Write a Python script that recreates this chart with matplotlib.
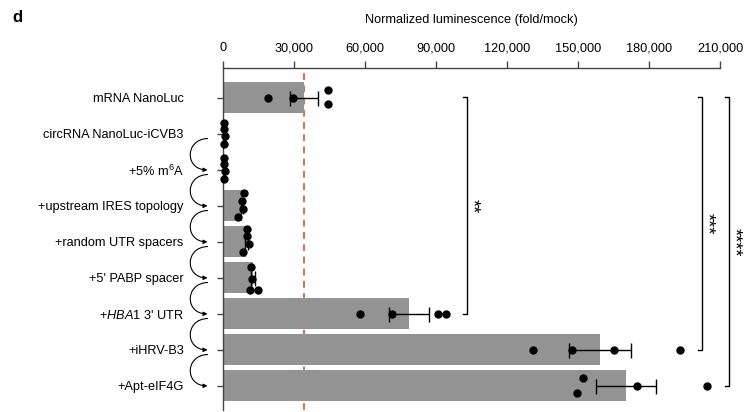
import matplotlib
matplotlib.use('Agg')  # no display
import matplotlib.pyplot as plt
from matplotlib.ticker import FuncFormatter
from matplotlib.transforms import blended_transform_factory
from matplotlib.patches import FancyArrowPatch
from matplotlib.path import Path

plt.rcParams['font.family'] = ['Liberation Sans', 'DejaVu Sans']
plt.rcParams['mathtext.fontset'] = 'custom'
plt.rcParams['mathtext.rm'] = 'Liberation Sans'
plt.rcParams['mathtext.it'] = 'Liberation Sans:italic'

# data
labels = ['mRNA NanoLuc', 'circRNA NanoLuc-iCVB3', '+5% m$^{6}$A',
          '+upstream IRES topology', '+random UTR spacers', "+5' PABP spacer",
          "+$\\it{HBA1}$ 3' UTR", '+iHRV-B3', '+Apt-eIF4G']
means = [34200, 600, 600, 8000, 9900, 12600, 78600, 159100, 170100]
sems = [6100, 200, 200, 600, 600, 800, 8300, 13100, 12700]
replicates = [
    [19000, 29500, 44300, 44300],
    [600, 600, 800, 600],
    [500, 600, 700, 500],
    [8900, 8000, 8600, 6300],
    [10000, 10000, 11000, 8300],
    [11800, 12100, 11400, 14900],
    [58000, 71400, 90900, 94200],
    [130900, 147500, 165000, 192900],
    [152000, 149400, 174800, 204300],
]
# significance: (from row, to row, stars)
comparisons = [(0, 6, '**'), (0, 7, '***'), (0, 8, '****')]
xticks = [0, 30000, 60000, 90000, 120000, 150000, 180000, 210000]

# vertical jitter of the dots (row units)
jitter = [
    [0, 0, -0.22, 0.17],
    [-0.31, -0.14, 0.06, 0.28],
    [-0.33, -0.17, 0.03, 0.25],
    [-0.36, -0.14, 0.08, 0.31],
    [-0.36, -0.17, 0.06, 0.28],
    [-0.31, 0.03, 0.33, 0.33],
    [0, 0, 0, 0],
    [0, 0, 0, 0],
    [-0.22, 0.19, 0, 0],
]
bracket_x = [103000, 202200, 213600]
star_x = [105000, 204400, 215600]

fig = plt.figure(figsize=(7.46, 4.12), dpi=100)
ax = fig.add_axes([0.2989, 0.005, 0.6667, 0.830])

rows = list(range(len(labels)))
spine_col = '#444444'

ax.barh(rows, means, height=0.86, color='#939393', zorder=1)
ax.errorbar(means, rows, xerr=sems, fmt='none', ecolor='black', elinewidth=1.0,
            capsize=5.4, capthick=1.0, zorder=3)
for i, vals in enumerate(replicates):
    ys = [i + j for j in jitter[i]]
    ax.plot(vals, ys, 'o', color='black', markersize=5, zorder=4, clip_on=False)

# reference line at mRNA level
ax.axvline(means[0], color='#d6451f', lw=1.1, ls=(0, (4.5, 3.5)), zorder=0.5)

# significance brackets
for (a, b, stars), bx, sx in zip(comparisons, bracket_x, star_x):
    ax.plot([bx - 1500, bx, bx, bx - 1500], [a - 0.03, a - 0.03, b, b],
            color='black', lw=1.0, clip_on=False)
    ax.text(sx, (a + b) / 2, stars, rotation=270, ha='center', va='center',
            fontsize=13, clip_on=False)

# curved arrows between successive constructs (C-shaped)
trans = blended_transform_factory(ax.transAxes, ax.transData)
x0, d = -0.031, 0.046
for i in range(1, len(labels) - 1):
    y0, y1 = i + 0.13, i + 1
    path = Path([(x0, y0), (x0 - d, y0 + 0.02), (x0 - d, y1), (x0, y1)],
                [Path.MOVETO, Path.CURVE4, Path.CURVE4, Path.CURVE4])
    arrow = FancyArrowPatch(path=path, transform=trans, arrowstyle='-|>',
                            mutation_scale=6, color='black', lw=0.8,
                            clip_on=False)
    ax.add_patch(arrow)

ax.set_xlim(0, 210000)
ax.set_ylim(8.67, -0.83)
ax.set_yticks(rows)
ax.set_yticklabels(labels, fontsize=9.2)
ax.set_xticks(xticks)
ax.xaxis.set_major_formatter(FuncFormatter(lambda v, p: f'{int(v):,}'))
ax.xaxis.tick_top()
ax.xaxis.set_label_position('top')
ax.set_xlabel('Normalized luminescence (fold/mock)', fontsize=9.2, labelpad=14)
ax.tick_params(axis='x', direction='out', length=5, width=1, color=spine_col,
               labelsize=9.2, pad=5)
ax.tick_params(axis='y', direction='out', length=4.3, width=1, color=spine_col,
               pad=24)

for side in ['right', 'bottom']:
    ax.spines[side].set_visible(False)
for side in ['top', 'left']:
    ax.spines[side].set_color(spine_col)
    ax.spines[side].set_linewidth(1.0)

fig.text(0.016, 1 - 17 / 412, 'd', fontsize=12, fontweight='bold', va='center')

fig.savefig('out.png', dpi=100)
plt.close(fig)
